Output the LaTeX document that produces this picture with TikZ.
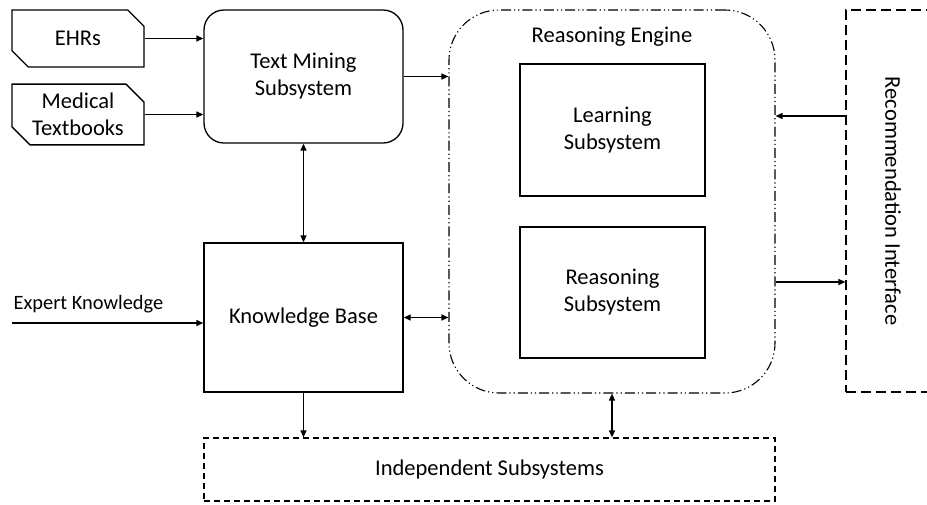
\documentclass[tikz,border=0pt]{standalone}
\usepackage{fontspec}
\setmainfont{Carlito}
\usetikzlibrary{arrows.meta,shapes.misc}
\begin{document}
\begin{tikzpicture}[x=1pt,y=-1pt,line width=1.3pt,
  lbl/.style={font=\fontsize{22.5}{27}\selectfont},
  box/.style={draw,rectangle,inner sep=0pt,align=center,lbl},
  docbox/.style={draw,chamfered rectangle,chamfered rectangle corners={north east,south west},chamfered rectangle xsep=9pt,chamfered rectangle ysep=9pt,inner sep=0pt,align=center,lbl},
  tip/.tip={Triangle[length=7pt,width=6pt]},
  arr/.style={-tip},
  darr/.style={tip-tip},
  dashdotdot/.style={line width=1.1pt,dash pattern=on 10pt off 3pt on 1.2pt off 3pt on 1.2pt off 3pt},
  dashbox/.style={line width=1.2pt,dash pattern=on 6pt off 4pt}]
\clip (0,0) rectangle (927,504);
% nodes
\node[docbox,minimum width=132pt,minimum height=57pt] (ehr) at (78,38.5) {EHRs};
\node[docbox,minimum width=132pt,minimum height=57pt] (med) at (78,114.5) {Medical\\Textbooks};
\node[box,rounded corners=20pt,minimum width=199pt,minimum height=133pt] (tm) at (303.5,76.5) {Text Mining\\Subsystem};
\node[box,dashdotdot,rounded corners=50pt,minimum width=326pt,minimum height=383pt] (re) at (612,201.5) {};
\node[lbl] (relbl) at (612,37) {Reasoning Engine};
\node[box,minimum width=185pt,minimum height=132pt] (learn) at (612.5,130) {Learning\\Subsystem};
\node[box,minimum width=185pt,minimum height=131pt] (rsub) at (612.5,292.5) {Reasoning\\Subsystem};
\node[box,dashdotdot,dash pattern=on 10pt off 5pt,minimum width=94pt,minimum height=382pt] (rec) at (893,201) {};
\node[lbl,rotate=-90] (reclbl) at (893,201) {Recommendation Interface};
\node[box,minimum width=199pt,minimum height=149pt] (kb) at (303.5,317.5) {Knowledge Base};
\node[box,dashbox,minimum width=571pt,minimum height=63pt] (ind) at (489.5,469.5) {Independent Subsystems};
\node[font=\fontsize{20.4}{24}\selectfont,anchor=south west,inner sep=0pt] (eklbl) at (13,314) {Expert Knowledge};
\coordinate (ek) at (12,323);
\coordinate (rin) at (rec.west |- 0,116);
\coordinate (rout) at (re.east |- 0,282);
% connectors
\draw[arr] (ehr.east) -- (ehr.east -| tm.west);
\draw[arr] (med.east) -- (med.east -| tm.west);
\draw[arr] (tm.east) -- (tm.east -| re.west);
\draw[darr] (tm.south) -- (kb.north);
\draw[arr] (ek) -- (ek -| kb.west);
\draw[darr] (kb.east) -- (kb.east -| re.west);
\draw[arr] (kb.south) -- (kb.south |- ind.north);
\draw[darr] (re.south) -- (re.south |- ind.north);
\draw[arr] (rin) -- (rin -| re.east);
\draw[arr] (rout) -- (rout -| rec.west);
\end{tikzpicture}
\end{document}
